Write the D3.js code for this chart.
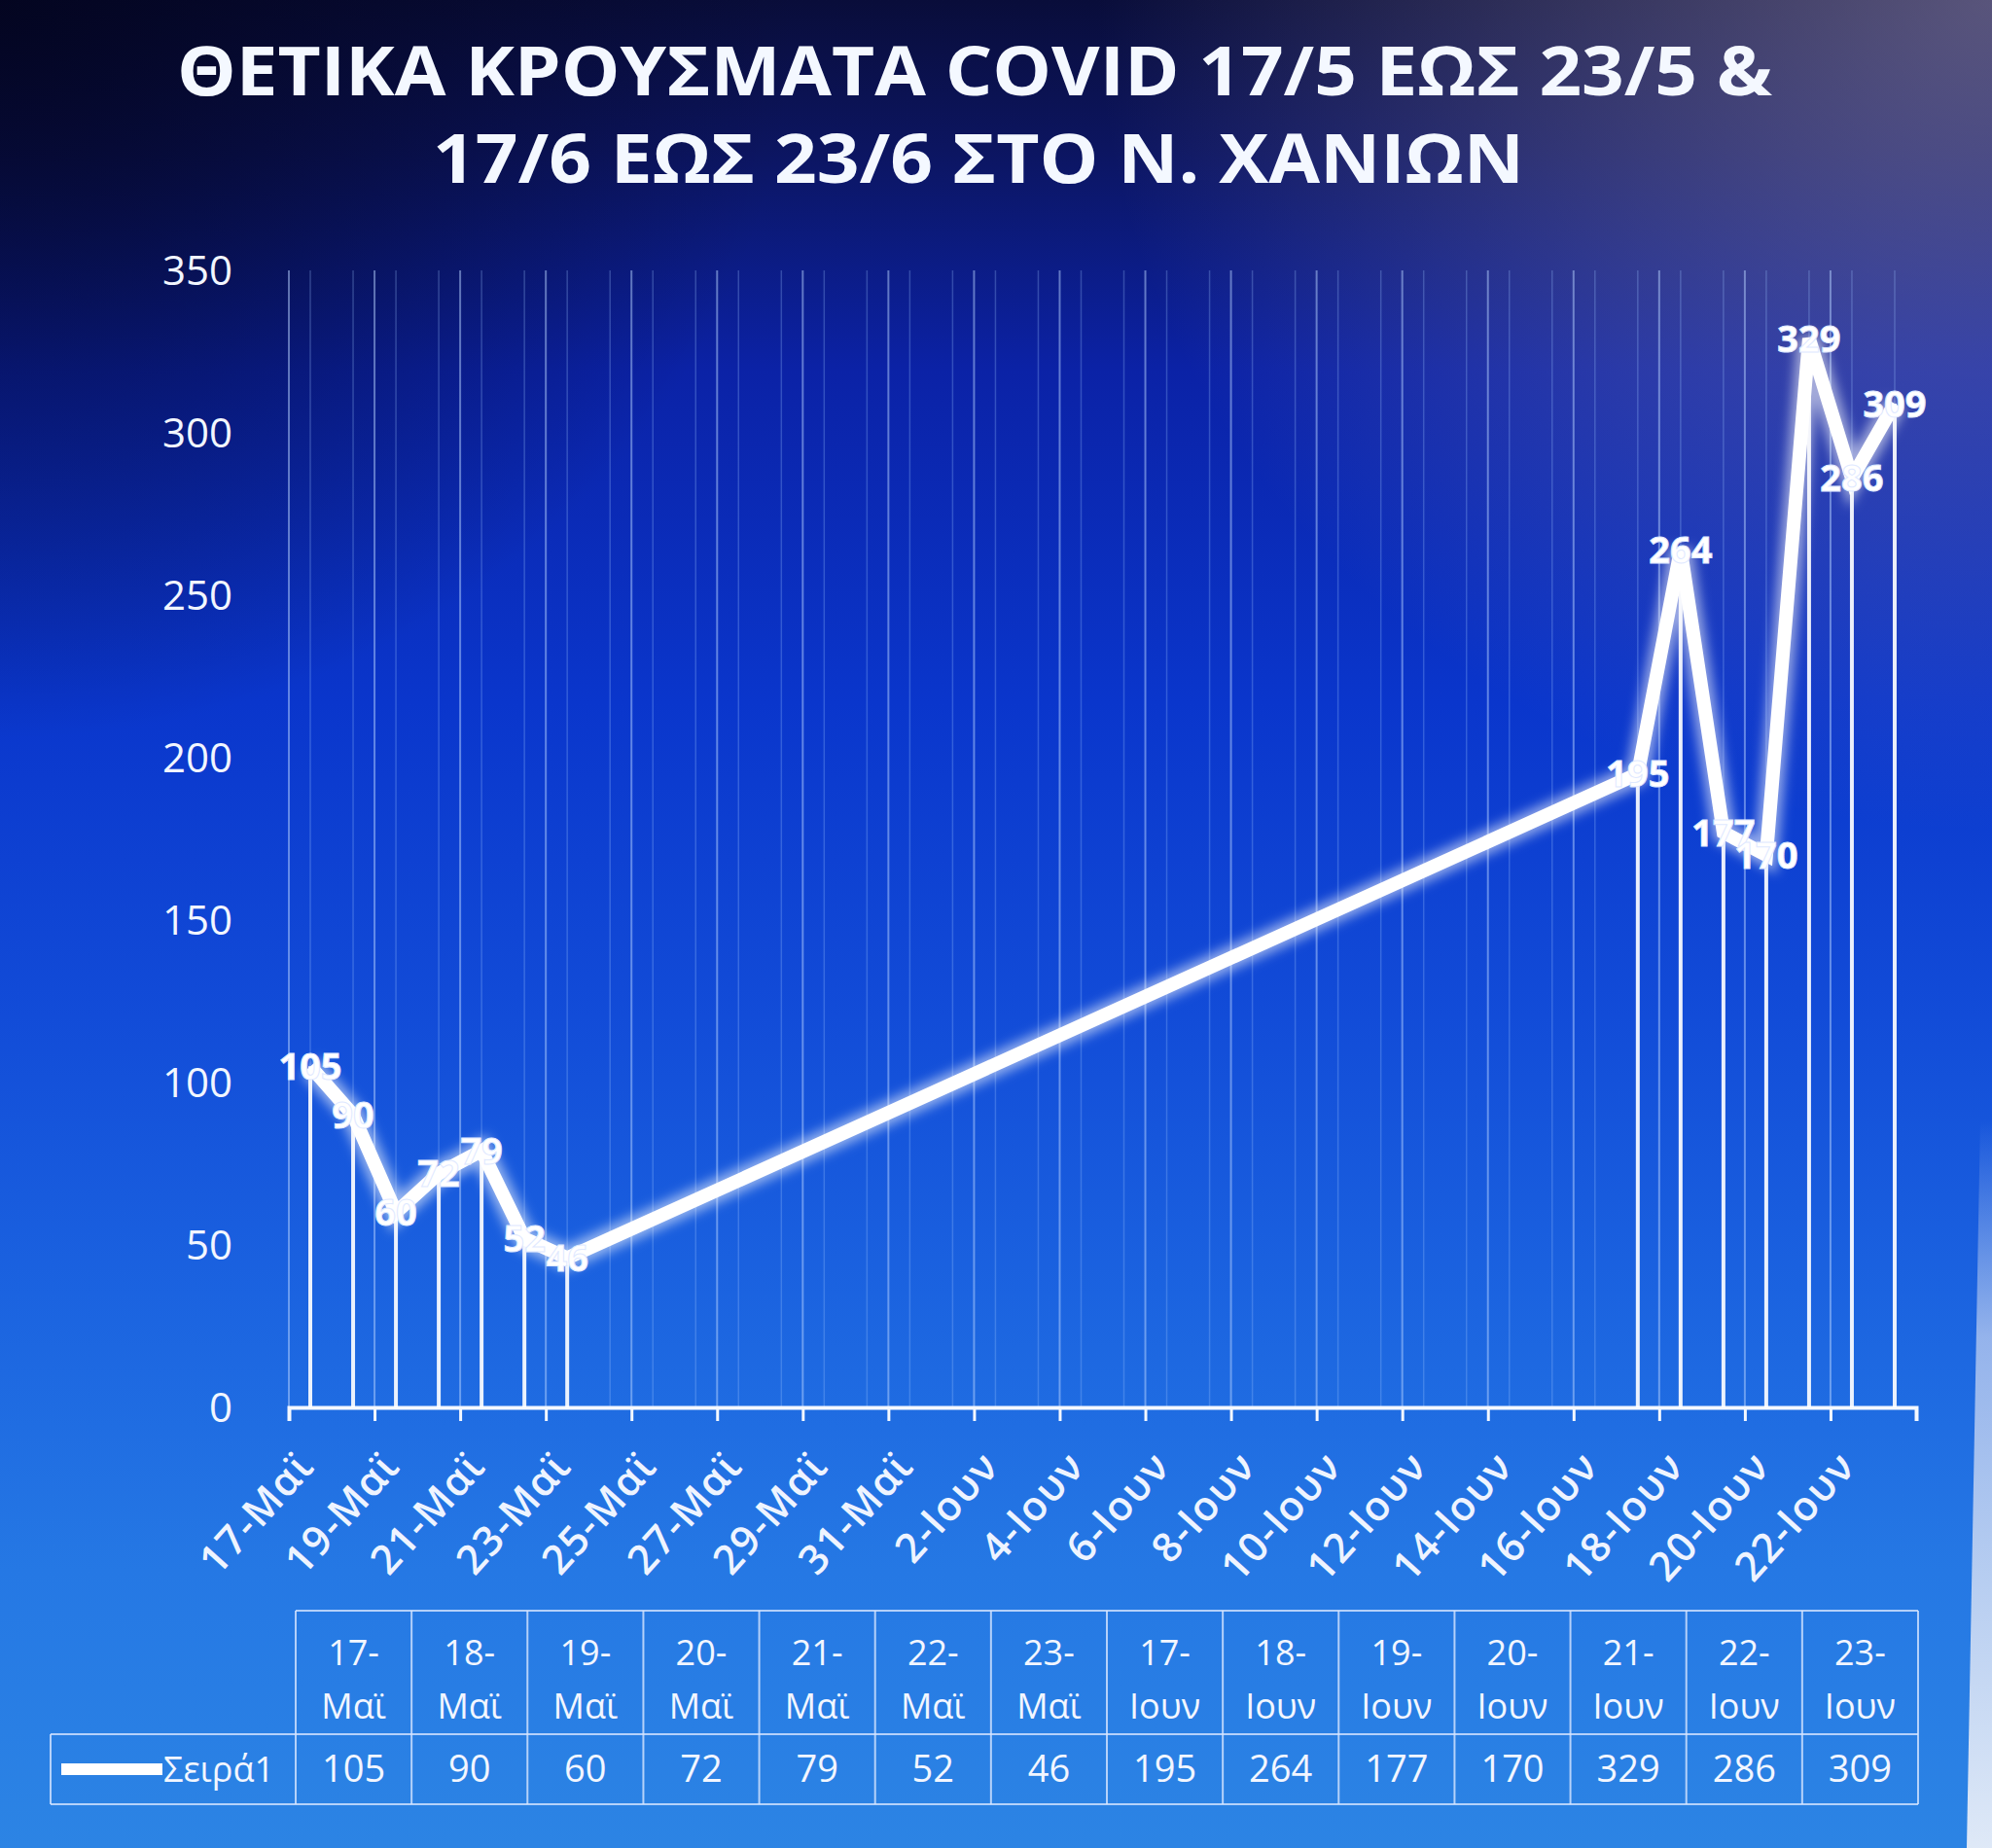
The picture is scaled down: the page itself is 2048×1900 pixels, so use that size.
<!DOCTYPE html>
<html>
<head>
<meta charset="utf-8">
<script src="https://cdn.jsdelivr.net/npm/d3@7"></script>
<style>
  html, body { margin: 0; padding: 0; background: #0a0e3c; }
  svg { display: block; }
</style>
</head>
<body>
<script>
// ---------- DATA ----------
const titleLines = ["ΘΕΤΙΚΑ ΚΡΟΥΣΜΑΤΑ COVID 17/5 ΕΩΣ 23/5 &", "17/6 ΕΩΣ 23/6 ΣΤΟ Ν. ΧΑΝΙΩΝ"];
const dates = ["2022-05-17","2022-05-18","2022-05-19","2022-05-20","2022-05-21","2022-05-22","2022-05-23",
               "2022-06-17","2022-06-18","2022-06-19","2022-06-20","2022-06-21","2022-06-22","2022-06-23"];
const categoryDay = ["17-","18-","19-","20-","21-","22-","23-","17-","18-","19-","20-","21-","22-","23-"];
const categoryMonth = ["Μαϊ","Μαϊ","Μαϊ","Μαϊ","Μαϊ","Μαϊ","Μαϊ","Ιουν","Ιουν","Ιουν","Ιουν","Ιουν","Ιουν","Ιουν"];
const values = [105, 90, 60, 72, 79, 52, 46, 195, 264, 177, 170, 329, 286, 309];
const seriesName = "Σειρά1";
const yTicks = [0, 50, 100, 150, 200, 250, 300, 350];
const xTickDates = ["2022-05-17","2022-05-19","2022-05-21","2022-05-23","2022-05-25","2022-05-27","2022-05-29","2022-05-31",
                    "2022-06-02","2022-06-04","2022-06-06","2022-06-08","2022-06-10","2022-06-12","2022-06-14","2022-06-16",
                    "2022-06-18","2022-06-20","2022-06-22"];
const xTickLabels = ["17-Μαϊ","19-Μαϊ","21-Μαϊ","23-Μαϊ","25-Μαϊ","27-Μαϊ","29-Μαϊ","31-Μαϊ",
                     "2-Ιουν","4-Ιουν","6-Ιουν","8-Ιουν","10-Ιουν","12-Ιουν","14-Ιουν","16-Ιουν",
                     "18-Ιουν","20-Ιουν","22-Ιουν"];
const xDomain = ["2022-05-17", "2022-06-24"];

// ---------- LAYOUT ----------
const W = 2048, H = 1900;
const plot = { left: 297, right: 1970, top: 278, bottom: 1447 };
const table = { left: 304, right: 1972, top: 1656, mid: 1783, bottom: 1855, legendLeft: 52 };

const parse = d3.utcParse("%Y-%m-%d");
const svg = d3.select("body").append("svg").attr("width", W).attr("height", H);
const defs = svg.append("defs");

const bg = defs.append("linearGradient").attr("id", "bg").attr("x1", 0).attr("y1", 0).attr("x2", 0).attr("y2", 1);
[[0, "#090d3a"], [0.08, "#0c1560"], [0.2, "#0b22a6"], [0.38, "#0a36cc"], [0.55, "#124cd8"],
 [0.7, "#1b63e0"], [0.85, "#2578e4"], [1, "#2c84e4"]]
  .forEach(([o, c]) => bg.append("stop").attr("offset", o).attr("stop-color", c));

const corner = defs.append("radialGradient").attr("id", "corner").attr("cx", 1).attr("cy", 0).attr("r", 0.45);
corner.append("stop").attr("offset", 0).attr("stop-color", "#9a8fb0").attr("stop-opacity", 0.55);
corner.append("stop").attr("offset", 1).attr("stop-color", "#9a8fb0").attr("stop-opacity", 0);

const cornerL = defs.append("radialGradient").attr("id", "cornerL").attr("cx", 0).attr("cy", 0).attr("r", 0.4);
cornerL.append("stop").attr("offset", 0).attr("stop-color", "#02031a").attr("stop-opacity", 0.8);
cornerL.append("stop").attr("offset", 1).attr("stop-color", "#02031a").attr("stop-opacity", 0);

const edge = defs.append("linearGradient").attr("id", "edge").attr("x1", 0).attr("y1", 0).attr("x2", 0).attr("y2", 1);
edge.append("stop").attr("offset", 0).attr("stop-color", "#c8d4f0").attr("stop-opacity", 0);
edge.append("stop").attr("offset", 0.3).attr("stop-color", "#c8d4f0").attr("stop-opacity", 0.7);
edge.append("stop").attr("offset", 1).attr("stop-color", "#e8eef8").attr("stop-opacity", 0.95);

const glow = defs.append("filter").attr("id", "glow").attr("x", "-10%").attr("y", "-10%").attr("width", "120%").attr("height", "120%");
glow.append("feGaussianBlur").attr("stdDeviation", 6);

svg.append("rect").attr("width", W).attr("height", H).attr("fill", "url(#bg)");
svg.append("rect").attr("width", W).attr("height", H).attr("fill", "url(#corner)");
svg.append("rect").attr("width", W).attr("height", H).attr("fill", "url(#cornerL)");
svg.append("polygon").attr("points", "2036,1150 2048,1150 2048,1900 2022,1900").attr("fill", "url(#edge)");

// ---------- SCALES ----------
const x = d3.scaleUtc().domain(xDomain.map(parse)).range([plot.left, plot.right]);
const y = d3.scaleLinear().domain([0, 350]).range([plot.bottom, plot.top]);
const center = d => x(d3.utcHour.offset(d, 12));
const days = d3.utcDay.range(parse(xDomain[0]), parse(xDomain[1]));

// ---------- GRIDLINES ----------
const grid = svg.append("g");
grid.selectAll("line.minor").data(days).join("line")
  .attr("x1", d => center(d)).attr("x2", d => center(d))
  .attr("y1", plot.top).attr("y2", plot.bottom)
  .attr("stroke", "#9fc4ff").attr("stroke-opacity", 0.28).attr("stroke-width", 1.5);
grid.selectAll("line.major").data(xTickDates.map(parse)).join("line")
  .attr("x1", d => x(d)).attr("x2", d => x(d))
  .attr("y1", plot.top).attr("y2", plot.bottom)
  .attr("stroke", "#b8d4ff").attr("stroke-opacity", 0.5).attr("stroke-width", 2);

// ---------- Y AXIS LABELS ----------
svg.append("g").selectAll("text").data(yTicks).join("text")
  .attr("x", plot.left - 58).attr("y", d => y(d)).attr("dy", "0.35em")
  .attr("text-anchor", "end")
  .attr("font-family", "'Open Sans', 'DejaVu Sans', sans-serif")
  .attr("font-size", 42).attr("fill", "#f2f6ff")
  .text(d => d);

// ---------- X AXIS ----------
const xAxis = d3.axisBottom(x)
  .tickValues(xTickDates.map(parse).concat([parse(xDomain[1])]))
  .tickSize(14).tickFormat("");
const xg = svg.append("g").attr("transform", `translate(0,${plot.bottom})`).call(xAxis);
xg.select(".domain").attr("stroke", "#f4f8ff").attr("stroke-width", 4);
xg.selectAll(".tick line").attr("stroke", "#f4f8ff").attr("stroke-width", 3);

svg.append("g").selectAll("text").data(xTickDates.map(parse)).join("text")
  .attr("transform", d => `translate(${center(d) + 6},${plot.bottom + 62}) rotate(-48)`)
  .attr("text-anchor", "end")
  .attr("font-family", "'Open Sans', 'DejaVu Sans', sans-serif")
  .attr("font-size", 42).attr("font-weight", 600).attr("letter-spacing", 1.5).attr("fill", "#eef4ff")
  .text((d, i) => xTickLabels[i]);

// ---------- DROP LINES ----------
const pts = dates.map((d, i) => ({ date: parse(d), value: values[i] }));
svg.append("g").selectAll("line").data(pts).join("line")
  .attr("x1", d => center(d.date)).attr("x2", d => center(d.date))
  .attr("y1", d => y(d.value)).attr("y2", plot.bottom)
  .attr("stroke", "#ffffff").attr("stroke-opacity", 0.9).attr("stroke-width", 4);

// ---------- LINE ----------
const line = d3.line().x(d => center(d.date)).y(d => y(d.value));
svg.append("path").datum(pts).attr("d", line)
  .attr("fill", "none").attr("stroke", "#ffffff").attr("stroke-opacity", 0.55)
  .attr("stroke-width", 24).attr("stroke-linejoin", "miter").attr("filter", "url(#glow)");
svg.append("path").datum(pts).attr("d", line)
  .attr("fill", "none").attr("stroke", "#ffffff").attr("stroke-width", 14)
  .attr("stroke-linejoin", "miter");

// ---------- DATA LABELS ----------
svg.append("g").selectAll("text").data(pts).join("text")
  .attr("x", d => center(d.date)).attr("y", d => y(d.value)).attr("dy", "0.36em")
  .attr("text-anchor", "middle")
  .attr("font-family", "'Open Sans', 'DejaVu Sans', sans-serif")
  .attr("font-size", 38).attr("font-weight", 700).attr("fill", "#ffffff")
  .attr("stroke", "#dfe9ff").attr("stroke-width", 1)
  .text(d => d.value);

// ---------- TITLE ----------
const title = svg.append("g");
title.append("text").attr("x", 1002).attr("y", 98)
  .attr("text-anchor", "middle").attr("textLength", 1640).attr("lengthAdjust", "spacingAndGlyphs")
  .attr("font-family", "'Open Sans', 'DejaVu Sans', sans-serif").attr("font-weight", 700)
  .attr("font-size", 70).attr("fill", "#f4f8ff").text(titleLines[0]);
title.append("text").attr("x", 1006).attr("y", 188)
  .attr("text-anchor", "middle").attr("textLength", 1122).attr("lengthAdjust", "spacingAndGlyphs")
  .attr("font-family", "'Open Sans', 'DejaVu Sans', sans-serif").attr("font-weight", 700)
  .attr("font-size", 70).attr("fill", "#f4f8ff").text(titleLines[1]);

// ---------- DATA TABLE ----------
const tx = d3.scaleBand().domain(d3.range(values.length)).range([table.left, table.right]);
const tg = svg.append("g").attr("stroke", "#d8e6ff").attr("stroke-opacity", 0.8).attr("stroke-width", 2).attr("fill", "none");
tg.append("line").attr("x1", table.left).attr("x2", table.right).attr("y1", table.top).attr("y2", table.top);
tg.append("line").attr("x1", table.legendLeft).attr("x2", table.right).attr("y1", table.mid).attr("y2", table.mid);
tg.append("line").attr("x1", table.legendLeft).attr("x2", table.right).attr("y1", table.bottom).attr("y2", table.bottom);
tg.append("line").attr("x1", table.legendLeft).attr("x2", table.legendLeft).attr("y1", table.mid).attr("y2", table.bottom);
tg.selectAll("line.v").data(d3.range(values.length + 1)).join("line")
  .attr("x1", i => table.left + i * tx.bandwidth()).attr("x2", i => table.left + i * tx.bandwidth())
  .attr("y1", table.top).attr("y2", table.bottom);

const cellFont = "'Open Sans', 'DejaVu Sans', sans-serif";
const tt = svg.append("g").attr("font-family", cellFont).attr("font-size", 36).attr("fill", "#f2f6ff").attr("text-anchor", "middle");
tt.selectAll("text.d").data(categoryDay).join("text")
  .attr("x", (d, i) => tx(i) + tx.bandwidth() / 2).attr("y", 1712).text(d => d);
tt.selectAll("text.m").data(categoryMonth).join("text")
  .attr("x", (d, i) => tx(i) + tx.bandwidth() / 2).attr("y", 1767).text(d => d);
tt.selectAll("text.v").data(values).join("text")
  .attr("x", (d, i) => tx(i) + tx.bandwidth() / 2).attr("y", 1832).attr("font-size", 38).text(d => d);

svg.append("line").attr("x1", 63).attr("x2", 167).attr("y1", 1819).attr("y2", 1819)
  .attr("stroke", "#ffffff").attr("stroke-width", 12);
svg.append("text").attr("x", 168).attr("y", 1832)
  .attr("font-family", cellFont).attr("font-size", 36).attr("fill", "#f2f6ff").text(seriesName);
</script>
</body>
</html>
